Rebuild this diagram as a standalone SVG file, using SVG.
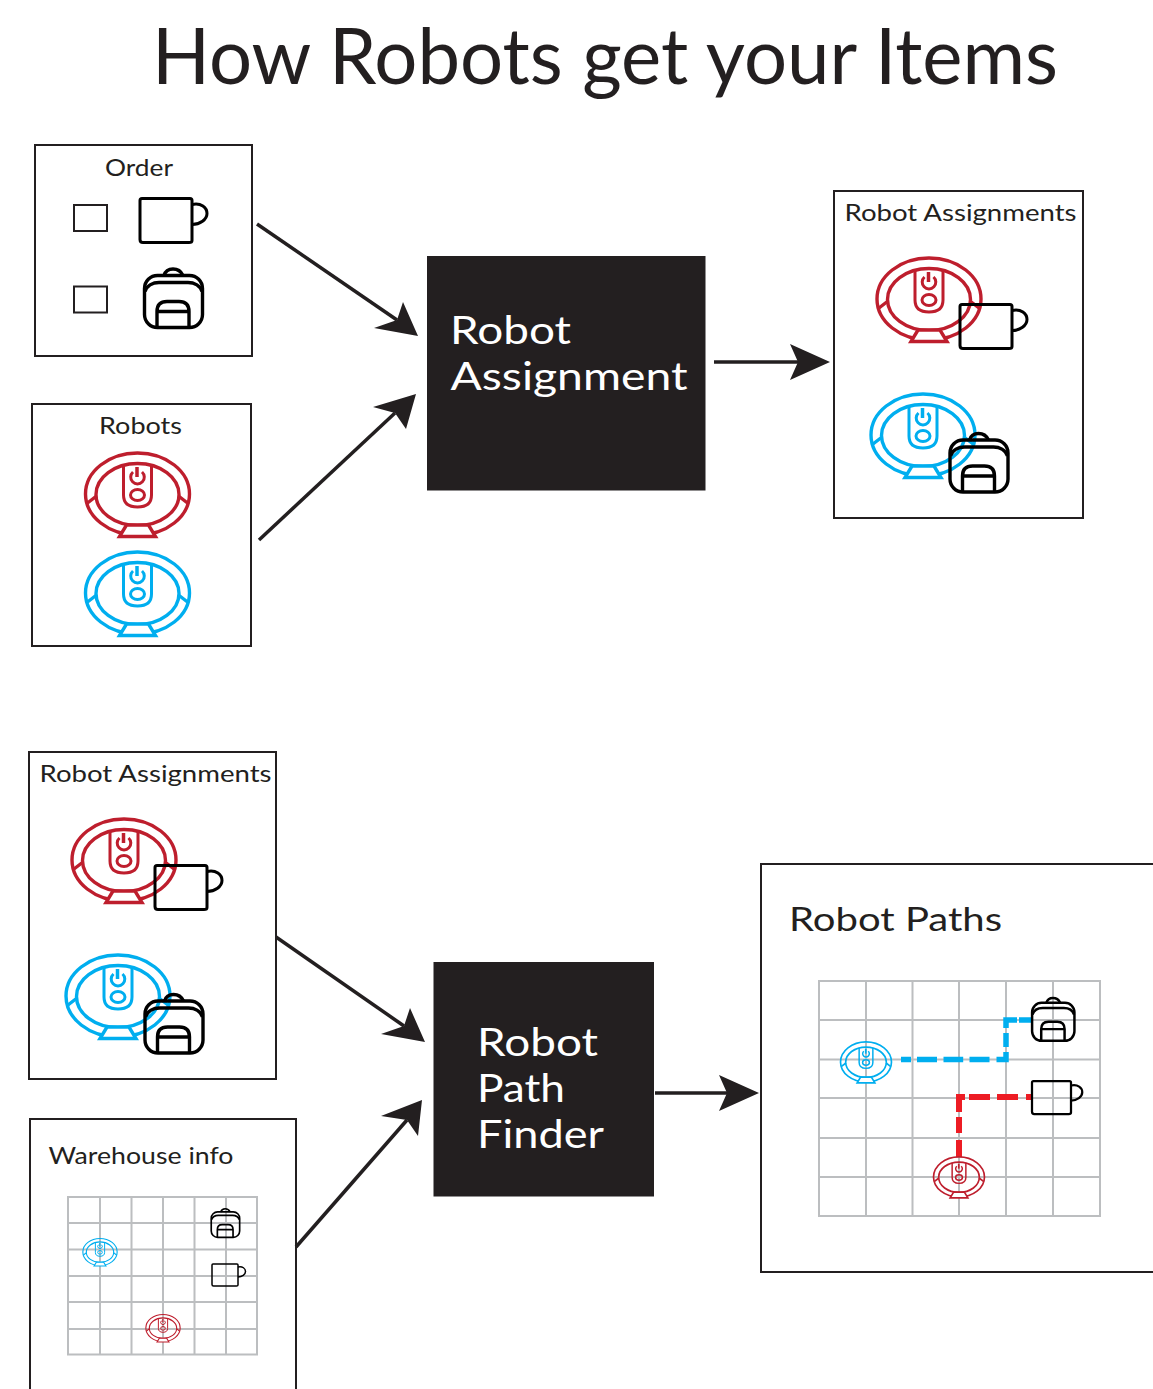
<svg xmlns="http://www.w3.org/2000/svg" width="1153" height="1389" viewBox="0 0 1153 1389">
<style>
text{font-family:"Lato","Noto Sans","Liberation Sans",sans-serif;fill:#231f20}
.box{fill:none;stroke:#231f20;stroke-width:2}
.check{fill:none;stroke:#231f20;stroke-width:2}
.proc{fill:#231f20}
.white{fill:#fff;font-size:38px}
.lbl{font-size:23px}
.conn{fill:none;stroke:#231f20;stroke-width:3.5}
.grid{fill:none;stroke:#bcbec0;stroke-width:2}
.red{stroke:#be1e2d}
.blue{stroke:#00aeef}
.ink{stroke:#000}
.head{fill:#231f20;stroke:none}
</style>
<defs>
<g id="robot" fill="none" stroke-width="3.400">
<ellipse cx="0" cy="0" rx="52" ry="41"/>
<ellipse cx="0" cy="0.500" rx="41.500" ry="31"/>
<path d="M-14,-29V1Q-14,13 0,13Q14,13 14,1V-29" stroke-width="3"/>
<path d="M-4.500,-22A6.800,6.800 0 1 0 4.500,-22" stroke-width="3"/>
<path d="M-0.500,-27V-17" stroke-width="3.500"/>
<ellipse cx="0" cy="1" rx="7" ry="5.500" stroke-width="3"/>
<path d="M-18,42.500H18L11,31H-11Z" fill="#fff"/>
<path d="M-50,9L-41,2M50,9L41,2"/>
</g>
<g id="mug" fill="none" stroke-width="3">
<path d="M2,0H50Q52,0 52,2V42Q52,44 49,44H3Q0,44 0,41V2Q0,0 2,0Z"/>
<path d="M52,6C61,4 67,9 67,15C67,21 60,26 52,26"/>
</g>
<g id="pack" fill="none" stroke-width="3.400">
<rect x="1.500" y="8" width="58" height="52" rx="13"/>
<path d="M21,8Q23,1.500 30,1.500Q37,1.500 40,8"/>
<path d="M2,24C4,18 10,15 16,15H45C51,15 57,18 59,24"/>
<path d="M14,60V44Q14,34 24,34H36Q46,34 46,44V60M14,44H46"/>
</g>
<marker id="hH" markerUnits="userSpaceOnUse" markerWidth="120" markerHeight="120" viewBox="-60 -60 120 120" refX="0" refY="0" orient="0"><path class="head" d="M32,0L-8,-18L0,0L-8,18Z"/></marker>
<marker id="hD" markerUnits="userSpaceOnUse" markerWidth="120" markerHeight="120" viewBox="-60 -60 120 120" refX="0" refY="0" orient="0"><path class="head" d="M21,16L6,-18L0,0L-23,8Z"/></marker>
<marker id="hU" markerUnits="userSpaceOnUse" markerWidth="120" markerHeight="120" viewBox="-60 -60 120 120" refX="0" refY="0" orient="0"><path class="head" d="M21,-19L-22,-6L0,0L11,16Z"/></marker>
<marker id="hV" markerUnits="userSpaceOnUse" markerWidth="120" markerHeight="120" viewBox="-60 -60 120 120" refX="0" refY="0" orient="0"><path class="head" d="M15,-20L-26,-4L0,0L11,16Z"/></marker>
</defs>

<text id="title" x="152" y="83.500" font-size="77" textLength="906" lengthAdjust="spacingAndGlyphs">How Robots get your Items</text>

<g id="connectors">
<line class="conn" x1="257" y1="224" x2="397" y2="320" marker-end="url(#hD)"/>
<line class="conn" x1="259" y1="540" x2="395" y2="413" marker-end="url(#hU)"/>
<line class="conn" x1="714" y1="362" x2="798" y2="362" marker-end="url(#hH)"/>
<line class="conn" x1="276" y1="937" x2="404" y2="1026" marker-end="url(#hD)"/>
<line class="conn" x1="296" y1="1247" x2="407" y2="1120" marker-end="url(#hV)"/>
<line class="conn" x1="655" y1="1093" x2="727" y2="1093" marker-end="url(#hH)"/>
</g>

<g id="order">
<rect class="box" x="35" y="145" width="217" height="211"/>
<text class="lbl" x="105" y="176" textLength="68" lengthAdjust="spacingAndGlyphs">Order</text>
<rect class="check" x="74" y="205" width="33" height="26"/>
<rect class="check" x="74" y="286.500" width="33" height="26"/>
<use href="#mug" class="ink" x="140" y="198.500"/>
<use href="#pack" class="ink" x="143" y="267.500"/>
</g>

<g id="robots">
<rect class="box" x="32" y="404" width="219" height="242"/>
<text class="lbl" x="99" y="434" textLength="83" lengthAdjust="spacingAndGlyphs">Robots</text>
<use href="#robot" class="red" x="137.500" y="494"/>
<use href="#robot" class="blue" x="137.500" y="593"/>
</g>

<g id="robot-assignment">
<rect class="proc" x="427" y="256" width="278.500" height="234.500"/>
<text class="white" x="450" y="344" textLength="121" lengthAdjust="spacingAndGlyphs">Robot</text>
<text class="white" x="450.500" y="390" textLength="237" lengthAdjust="spacingAndGlyphs">Assignment</text>
</g>

<g id="assignments-output">
<rect class="box" x="834" y="191" width="249" height="327"/>
<text class="lbl" x="844.500" y="221" textLength="232" lengthAdjust="spacingAndGlyphs">Robot Assignments</text>
<use href="#robot" class="red" x="929" y="299"/>
<use href="#mug" class="ink" x="960" y="304.500"/>
<use href="#robot" class="blue" x="923" y="435"/>
<use href="#pack" class="ink" x="948.500" y="432"/>
</g>

<g id="assignments-input">
<rect class="box" x="29" y="752" width="247" height="327"/>
<text class="lbl" x="39.500" y="782" textLength="232" lengthAdjust="spacingAndGlyphs">Robot Assignments</text>
<use href="#robot" class="red" x="124" y="860"/>
<use href="#mug" class="ink" x="155" y="865.500"/>
<use href="#robot" class="blue" x="118" y="996"/>
<use href="#pack" class="ink" x="143.500" y="993"/>
</g>

<g id="warehouse-info">
<path class="box" d="M30,1389V1119H296V1389"/>
<text class="lbl" x="48.500" y="1164" textLength="185" lengthAdjust="spacingAndGlyphs">Warehouse info</text>
<path class="grid" d="M68,1197H257V1354.500H68ZM100,1197V1354.500M131.500,1197V1354.500M163,1197V1354.500M194.500,1197V1354.500M226,1197V1354.500M68,1223H257M68,1249.500H257M68,1276H257M68,1302H257M68,1329H257"/>
<use href="#robot" class="blue" transform="translate(100 1252) scale(.33)"/>
<use href="#robot" class="red" transform="translate(163 1328) scale(.33)"/>
<use href="#pack" class="ink" transform="translate(210.500 1208) scale(.49)"/>
<use href="#mug" class="ink" transform="translate(212 1264) scale(.5)"/>
</g>

<g id="robot-path-finder">
<rect class="proc" x="433.500" y="962" width="220.500" height="234.500"/>
<text class="white" x="477" y="1056" textLength="121" lengthAdjust="spacingAndGlyphs">Robot</text>
<text class="white" x="477" y="1102" textLength="88" lengthAdjust="spacingAndGlyphs">Path</text>
<text class="white" x="477" y="1148" textLength="127" lengthAdjust="spacingAndGlyphs">Finder</text>
</g>

<g id="robot-paths">
<path class="box" d="M1153,864H761V1272H1153"/>
<text x="789" y="931" font-size="33" textLength="213" lengthAdjust="spacingAndGlyphs">Robot Paths</text>
<path class="grid" d="M819,981H1100V1216H819ZM866,981V1216M912.500,981V1216M959,981V1216M1006,981V1216M1053,981V1216M819,1020H1100M819,1059.500H1100M819,1098H1100M819,1138H1100M819,1177H1100"/>
<path d="M901,1059.500H1006V1020H1031" fill="none" stroke="#00aeef" stroke-width="5.500" stroke-dasharray="10 6 20 6.500 19.700 6.300 20 7 17 5 14 5 19 2 12 99"/>
<path d="M959,1157V1097H1032" fill="none" stroke="#ed1c24" stroke-width="6" stroke-dasharray="17 7 16 5 21 4 21 7 21 8 10 99"/>
<use href="#robot" class="blue" transform="translate(866 1062) scale(.49)"/>
<use href="#robot" class="red" transform="translate(959 1177) scale(.49)"/>
<use href="#pack" class="ink" transform="translate(1031 997) scale(.73)"/>
<use href="#mug" class="ink" transform="translate(1032 1081) scale(.75)"/>
</g>
</svg>
